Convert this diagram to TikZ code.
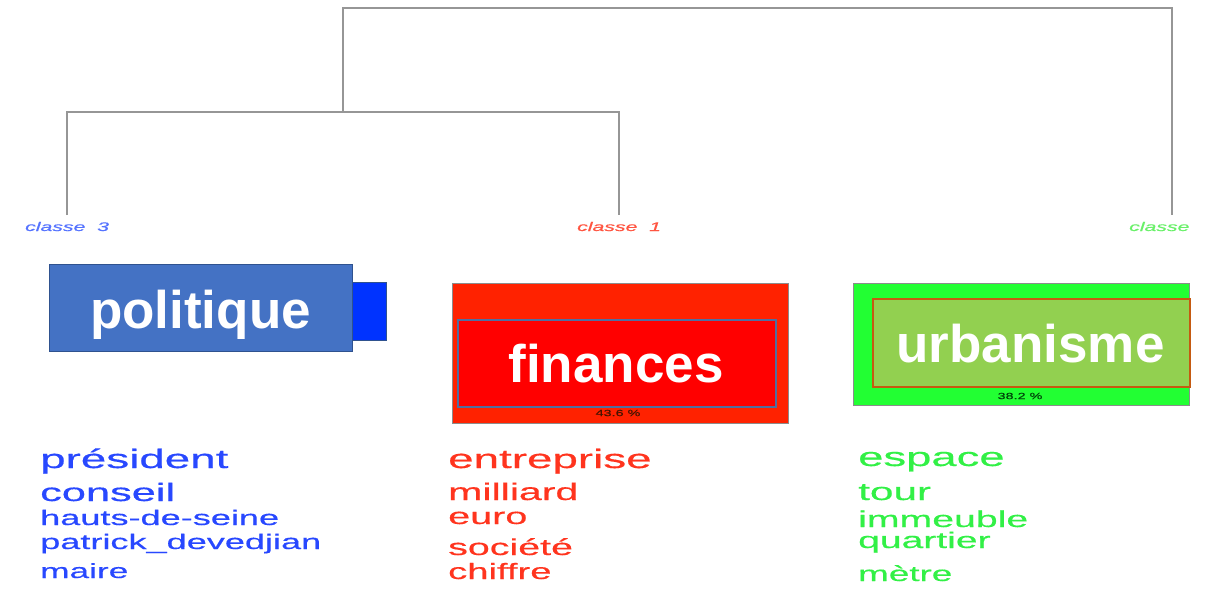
\documentclass[tikz,border=0pt]{standalone}
\usepackage{fontspec}
\setmainfont{Liberation Sans}
\newfontfamily\heavyfont[FakeBold=0.4]{Liberation Sans}
\newfontfamily\heavyital[FakeBold=0.5,ItalicFont={Liberation Sans Italic}]{Liberation Sans}
\definecolor{dendro}{RGB}{150,150,150}
\definecolor{polfill}{RGB}{68,114,196}
\definecolor{polline}{RGB}{47,82,143}
\definecolor{polside}{RGB}{0,51,255}
\definecolor{finout}{RGB}{255,34,0}
\definecolor{finin}{RGB}{255,0,0}
\definecolor{finline}{RGB}{80,110,160}
\definecolor{urbout}{RGB}{34,255,51}
\definecolor{urbin}{RGB}{146,208,80}
\definecolor{urbline}{RGB}{197,90,17}
\definecolor{bluetxt}{RGB}{40,72,255}
\definecolor{redtxt}{RGB}{255,52,30}
\definecolor{greentxt}{RGB}{50,240,70}
\definecolor{bluelab}{RGB}{85,115,255}
\definecolor{redlab}{RGB}{255,85,65}
\definecolor{greenlab}{RGB}{105,240,105}
\newcommand\strtxt[3]{\scalebox{#1}[1]{\fontsize{#2}{#2}\selectfont #3}}
\tikzset{
  dline/.style={draw=dendro, line width=1.8pt},
  word/.style={anchor=base west, inner sep=0pt, font=\heavyfont},
  lab/.style={anchor=base west, inner sep=0pt, font=\heavyital\itshape},
  title/.style={anchor=base, inner sep=0pt, text=white, font=\bfseries\fontsize{53}{53}\selectfont},
  pct/.style={anchor=center, inner sep=0pt, font=\heavyfont},
  boxn/.style={inner sep=0pt, anchor=north west},
}
\begin{document}
\begin{tikzpicture}[x=1pt,y=-1pt]
\useasboundingbox (0,0) rectangle (1206,589);
% dendrogram
\coordinate (top) at (343,8);
\coordinate (topr) at (1172,8);
\coordinate (mid) at (343,112);
\coordinate (midl) at (67,112);
\coordinate (midr) at (619,112);
\coordinate (leaf3) at (67,215);
\coordinate (leaf1) at (619,215);
\coordinate (leaf2) at (1172,215);
\draw[dline] (mid) -- (top) -- (topr) -- (leaf2);
\draw[dline] (leaf3) -- (midl) -- (midr) -- (leaf1);
% class labels
\node[lab, text=bluelab] (l3) at (25,231) {\strtxt{1.7}{12.5}{classe\ \ 3}};
\node[lab, text=redlab] (l1) at (577,231) {\strtxt{1.7}{12.5}{classe\ \ 1}};
\node[lab, text=greenlab] (l2) at (1129,231) {\strtxt{1.7}{12.5}{classe}};
% politique
\node[boxn, fill=polside, draw=polline, line width=0.6pt, minimum width=40pt, minimum height=58pt] (polside) at (346,282) {};
\node[boxn, fill=polfill, draw=polline, line width=1.4pt, minimum width=303pt, minimum height=87pt] (polbox) at (49,264) {};
\node[title] (poltxt) at (200.5,328) {politique};
% finances
\node[boxn, fill=finout, draw=black!45, line width=0.6pt, minimum width=336pt, minimum height=140pt] (finbox) at (452,283) {};
\node[boxn, fill=finin, draw=finline, line width=2pt, minimum width=318pt, minimum height=87pt] (fininner) at (457,319) {};
\node[title] (fintxt) at (616,382) {finances};
\node[pct, text={rgb,255:red,70;green,20;blue,0}] (finpct) at (618,413) {\strtxt{1.6}{9}{43.6 \%}};
% urbanisme
\node[boxn, fill=urbout, draw=black!45, line width=0.6pt, minimum width=336pt, minimum height=122pt] (urbbox) at (853,283) {};
\node[boxn, fill=urbin, draw=urbline, line width=2pt, minimum width=317pt, minimum height=88pt] (urbinner) at (872,298) {};
\node[title] (urbtxt) at (1030.5,362) {urbanisme};
\node[pct, text={rgb,255:red,0;green,70;blue,10}] (urbpct) at (1020,396) {\strtxt{1.6}{9}{38.2 \%}};
% word lists
\node[word, text=bluetxt] (b1) at (40,468) {\strtxt{1.72}{26.6}{président}};
\node[word, text=bluetxt] (b2) at (40,501) {\strtxt{1.72}{25.2}{conseil}};
\node[word, text=bluetxt] (b3) at (40,525) {\strtxt{1.72}{21}{hauts-de-seine}};
\node[word, text=bluetxt] (b4) at (40,549) {\strtxt{1.72}{21}{patrick\_devedjian}};
\node[word, text=bluetxt] (b5) at (40,578) {\strtxt{1.72}{20.5}{maire}};
\node[word, text=redtxt] (r1) at (448,468) {\strtxt{1.72}{26.6}{entreprise}};
\node[word, text=redtxt] (r2) at (448,500) {\strtxt{1.72}{23.9}{milliard}};
\node[word, text=redtxt] (r3) at (448,524) {\strtxt{1.72}{23}{euro}};
\node[word, text=redtxt] (r4) at (448,555) {\strtxt{1.72}{22.9}{société}};
\node[word, text=redtxt] (r5) at (448,579) {\strtxt{1.72}{22.2}{chiffre}};
\node[word, text=greentxt] (g1) at (858,466) {\strtxt{1.72}{26.4}{espace}};
\node[word, text=greentxt] (g2) at (858,500) {\strtxt{1.72}{24.6}{tour}};
\node[word, text=greentxt] (g3) at (858,527) {\strtxt{1.72}{22.8}{immeuble}};
\node[word, text=greentxt] (g4) at (858,548) {\strtxt{1.72}{22.7}{quartier}};
\node[word, text=greentxt] (g5) at (858,581) {\strtxt{1.72}{21.4}{mètre}};
\end{tikzpicture}
\end{document}
